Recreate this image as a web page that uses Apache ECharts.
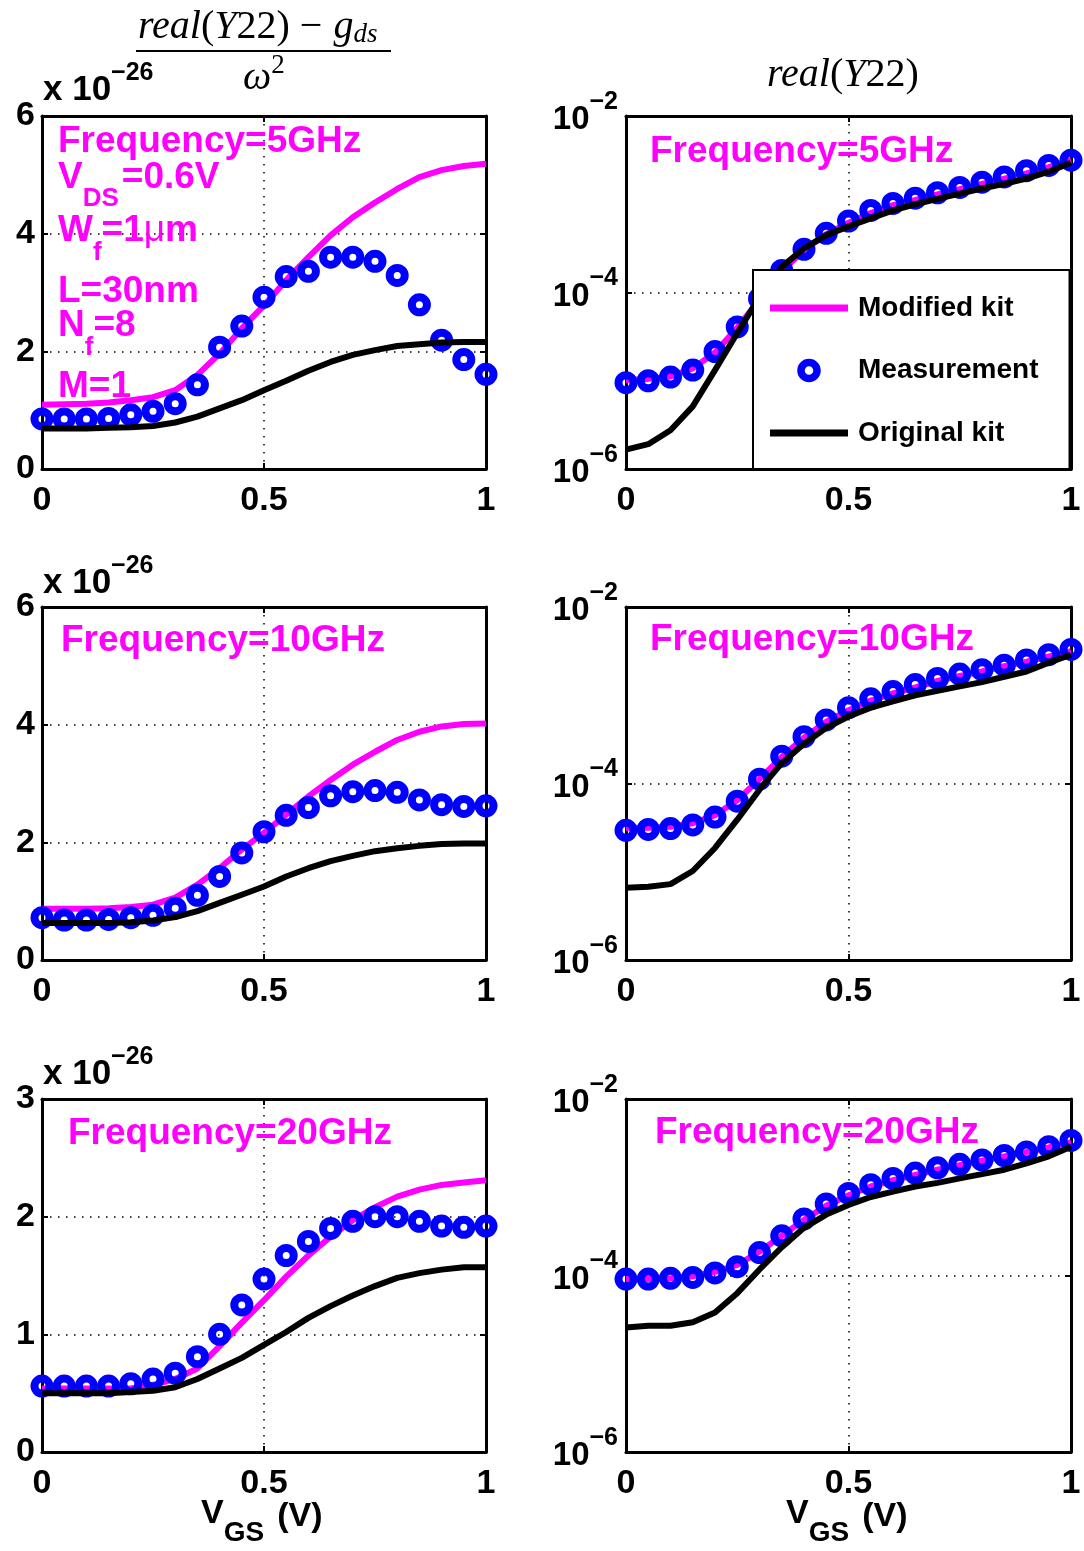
<!DOCTYPE html>
<html>
<head>
<meta charset="utf-8">
<script src="https://cdn.jsdelivr.net/npm/echarts@6/dist/echarts.min.js"></script>
<style>
  html, body { margin: 0; padding: 0; background: #fff; }
  #chart { width: 1084px; height: 1551px; }
</style>
</head>
<body>
<div id="chart"></div>
<script>
// Gate voltage sweep (V)
const vgs = [0, 0.05, 0.1, 0.15, 0.2, 0.25, 0.3, 0.35, 0.4, 0.45, 0.5, 0.55, 0.6, 0.65, 0.7, 0.75, 0.8, 0.85, 0.9, 0.95, 1];

// (real(Y22) - gds) / w^2, in units of 1e-26
const c5Meas  = [0.85, 0.85, 0.85, 0.86, 0.92, 0.98, 1.11, 1.43, 2.07, 2.43, 2.92, 3.27, 3.36, 3.60, 3.60, 3.53, 3.29, 2.79, 2.19, 1.86, 1.61];
const c5Mod   = [1.09, 1.10, 1.11, 1.13, 1.17, 1.22, 1.34, 1.60, 1.96, 2.39, 2.78, 3.21, 3.60, 3.97, 4.28, 4.53, 4.76, 4.96, 5.08, 5.15, 5.19];
const c5Orig  = [0.69, 0.69, 0.69, 0.70, 0.71, 0.73, 0.79, 0.89, 1.03, 1.17, 1.34, 1.50, 1.67, 1.82, 1.94, 2.02, 2.09, 2.12, 2.15, 2.16, 2.16];

const c10Meas = [0.72, 0.68, 0.68, 0.69, 0.72, 0.76, 0.88, 1.10, 1.42, 1.82, 2.18, 2.46, 2.59, 2.79, 2.86, 2.88, 2.85, 2.72, 2.64, 2.61, 2.62];
const c10Mod  = [0.87, 0.87, 0.87, 0.88, 0.90, 0.94, 1.06, 1.28, 1.56, 1.88, 2.16, 2.47, 2.78, 3.06, 3.32, 3.54, 3.74, 3.88, 3.97, 4.01, 4.02];
const c10Orig = [0.63, 0.63, 0.63, 0.63, 0.64, 0.67, 0.73, 0.83, 0.97, 1.11, 1.25, 1.42, 1.56, 1.68, 1.77, 1.85, 1.90, 1.94, 1.97, 1.98, 1.98];

const c20Meas = [0.56, 0.56, 0.56, 0.56, 0.58, 0.62, 0.67, 0.81, 1.00, 1.25, 1.47, 1.67, 1.79, 1.90, 1.96, 2.00, 2.00, 1.96, 1.92, 1.91, 1.92];
const c20Mod  = [0.54, 0.54, 0.54, 0.54, 0.54, 0.57, 0.62, 0.71, 0.90, 1.10, 1.29, 1.49, 1.67, 1.83, 1.97, 2.08, 2.17, 2.23, 2.27, 2.29, 2.31];
const c20Orig = [0.50, 0.50, 0.50, 0.50, 0.51, 0.52, 0.55, 0.62, 0.71, 0.80, 0.91, 1.02, 1.14, 1.24, 1.33, 1.41, 1.48, 1.52, 1.55, 1.57, 1.57];

// real(Y22) (S)
const g5Meas  = [9.5e-6, 1.0e-5, 1.1e-5, 1.32e-5, 2.14e-5, 4.07e-5, 8.5e-5, 1.78e-4, 3.09e-4, 4.68e-4, 6.46e-4, 8.51e-4, 1.02e-3, 1.17e-3, 1.35e-3, 1.55e-3, 1.78e-3, 2.04e-3, 2.40e-3, 2.75e-3, 3.16e-3];
const g5Mod   = [1.02e-5, 1.05e-5, 1.12e-5, 1.38e-5, 2.09e-5, 3.98e-5, 8.3e-5, 1.74e-4, 3.02e-4, 4.57e-4, 6.17e-4, 7.94e-4, 9.77e-4, 1.12e-3, 1.29e-3, 1.48e-3, 1.70e-3, 1.95e-3, 2.24e-3, 2.63e-3, 3.16e-3];
const g5Orig  = [1.66e-6, 1.91e-6, 2.75e-6, 5.13e-6, 1.32e-5, 3.47e-5, 8.9e-5, 1.95e-4, 3.16e-4, 4.47e-4, 5.62e-4, 6.92e-4, 8.51e-4, 1.0e-3, 1.15e-3, 1.32e-3, 1.51e-3, 1.70e-3, 1.95e-3, 2.34e-3, 2.95e-3];

const g10Meas = [2.95e-5, 3.02e-5, 3.09e-5, 3.39e-5, 4.17e-5, 6.31e-5, 1.12e-4, 2.04e-4, 3.39e-4, 5.25e-4, 7.24e-4, 9.12e-4, 1.10e-3, 1.32e-3, 1.55e-3, 1.74e-3, 1.95e-3, 2.19e-3, 2.51e-3, 2.88e-3, 3.31e-3];
const g10Mod  = [3.16e-5, 3.16e-5, 3.24e-5, 3.55e-5, 4.37e-5, 6.46e-5, 1.12e-4, 2.0e-4, 3.31e-4, 5.01e-4, 6.76e-4, 8.71e-4, 1.05e-3, 1.23e-3, 1.45e-3, 1.66e-3, 1.86e-3, 2.14e-3, 2.40e-3, 2.75e-3, 3.16e-3];
const g10Orig = [6.6e-6, 6.76e-6, 7.24e-6, 1.02e-5, 1.86e-5, 3.89e-5, 8.51e-5, 1.70e-4, 2.82e-4, 4.27e-4, 5.75e-4, 7.24e-4, 8.51e-4, 1.0e-3, 1.12e-3, 1.26e-3, 1.41e-3, 1.62e-3, 1.86e-3, 2.34e-3, 2.88e-3];

const g20Meas = [9.1e-5, 9.1e-5, 9.3e-5, 9.5e-5, 1.07e-4, 1.26e-4, 1.82e-4, 2.82e-4, 4.37e-4, 6.46e-4, 8.51e-4, 1.07e-3, 1.26e-3, 1.45e-3, 1.66e-3, 1.82e-3, 2.04e-3, 2.29e-3, 2.51e-3, 2.88e-3, 3.39e-3];
const g20Mod  = [9.1e-5, 9.1e-5, 9.3e-5, 9.8e-5, 1.10e-4, 1.32e-4, 1.86e-4, 2.82e-4, 4.27e-4, 6.17e-4, 8.13e-4, 1.02e-3, 1.20e-3, 1.38e-3, 1.58e-3, 1.78e-3, 2.0e-3, 2.24e-3, 2.51e-3, 2.82e-3, 3.24e-3];
const g20Orig = [2.57e-5, 2.69e-5, 2.69e-5, 2.95e-5, 3.8e-5, 6.31e-5, 1.17e-4, 2.09e-4, 3.47e-4, 4.9e-4, 6.31e-4, 7.76e-4, 8.91e-4, 1.02e-3, 1.12e-3, 1.26e-3, 1.41e-3, 1.58e-3, 1.86e-3, 2.24e-3, 2.88e-3];

const seriesNames = ['Modified kit', 'Measurement', 'Original kit'];
const freqLabels = ['Frequency=5GHz', 'Frequency=10GHz', 'Frequency=20GHz'];

const panels = [
  { row: 0, col: 0, mod: c5Mod,  meas: c5Meas,  orig: c5Orig,  ymax: 6, yint: 2 },
  { row: 0, col: 1, mod: g5Mod,  meas: g5Meas,  orig: g5Orig,  log: true },
  { row: 1, col: 0, mod: c10Mod, meas: c10Meas, orig: c10Orig, ymax: 6, yint: 2 },
  { row: 1, col: 1, mod: g10Mod, meas: g10Meas, orig: g10Orig, log: true },
  { row: 2, col: 0, mod: c20Mod, meas: c20Meas, orig: c20Orig, ymax: 3, yint: 1 },
  { row: 2, col: 1, mod: g20Mod, meas: g20Meas, orig: g20Orig, log: true }
];

const SANS = '"Liberation Sans", Arial, Helvetica, sans-serif';
const SERIF = '"Liberation Serif", "Times New Roman", serif';
const MAGENTA = '#ff00ff';
const BLUE = '#0000ff';

const colLeft = [42, 626];
const colWidth = [444, 445];
const rowTop = [116, 607, 1099];
const plotHeight = 353;

const tickText = { fontFamily: SANS, fontWeight: 'bold', fontSize: 34, color: '#000' };
const boxLine = { show: true, onZero: false, lineStyle: { color: '#000', width: 3 } };
const tickStyle = { show: true, inside: true, length: 6, lineStyle: { color: '#000', width: 2 } };
const dotted = { show: true, lineStyle: { color: '#000', width: 1.5, type: [1.5, 6.5] } };

const grids = [], xAxes = [], yAxes = [], series = [];

panels.forEach((p, gi) => {
  grids.push({ left: colLeft[p.col], top: rowTop[p.row], width: colWidth[p.col], height: plotHeight, containLabel: false });

  // bottom and top x axes
  xAxes.push({
    type: 'value', gridIndex: gi, min: 0, max: 1, interval: 0.5, position: 'bottom',
    axisLine: boxLine, axisTick: tickStyle,
    axisLabel: Object.assign({ margin: 15 }, tickText),
    splitLine: dotted
  });
  xAxes.push({
    type: 'value', gridIndex: gi, min: 0, max: 1, interval: 0.5, position: 'top',
    axisLine: boxLine, axisTick: tickStyle, axisLabel: { show: false }, splitLine: { show: false }
  });

  if (p.log) {
    yAxes.push({
      type: 'log', logBase: 10, gridIndex: gi, min: 1e-6, max: 1e-2, interval: 2, splitNumber: 2, position: 'left',
      axisLine: boxLine, axisTick: tickStyle, splitLine: dotted, minorTick: { show: false },
      axisLabel: {
        margin: 8,
        padding: [28, 0, 0, 0],
        formatter: v => '{b|10}{s|\u2212' + Math.round(-Math.log10(v)) + '}',
        rich: {
          b: { fontFamily: SANS, fontWeight: 'bold', fontSize: 33, lineHeight: 33, color: '#000', verticalAlign: 'bottom', padding: [0, 0, 10, 0] },
          s: { fontFamily: SANS, fontWeight: 'bold', fontSize: 25, lineHeight: 25, color: '#000', verticalAlign: 'bottom', padding: [0, 0, 32, 0] }
        }
      }
    });
    yAxes.push({
      type: 'log', logBase: 10, gridIndex: gi, min: 1e-6, max: 1e-2, interval: 2, splitNumber: 2, position: 'right',
      axisLine: boxLine, axisTick: tickStyle, axisLabel: { show: false }, splitLine: { show: false }
    });
  } else {
    yAxes.push({
      type: 'value', gridIndex: gi, min: 0, max: p.ymax, interval: p.yint, position: 'left',
      axisLine: boxLine, axisTick: tickStyle, splitLine: dotted,
      axisLabel: Object.assign({ margin: 7, padding: [7, 0, 0, 0] }, tickText)
    });
    yAxes.push({
      type: 'value', gridIndex: gi, min: 0, max: p.ymax, interval: p.yint, position: 'right',
      axisLine: boxLine, axisTick: tickStyle, axisLabel: { show: false }, splitLine: { show: false }
    });
  }

  const xi = gi * 2, yi = gi * 2;
  const pts = arr => vgs.map((v, i) => [v, arr[i]]);

  series.push({
    name: seriesNames[0], type: 'line', xAxisIndex: xi, yAxisIndex: yi, data: pts(p.mod),
    symbol: 'none', z: 2, lineStyle: { color: MAGENTA, width: 6 }, itemStyle: { color: MAGENTA }
  });
  series.push({
    name: seriesNames[1], type: 'scatter', xAxisIndex: xi, yAxisIndex: yi, data: pts(p.meas),
    symbol: 'circle', symbolSize: 15, z: 3, clip: false,
    itemStyle: { color: 'rgba(255,255,255,0)', borderColor: BLUE, borderWidth: 8, opacity: 1 }
  });
  series.push({
    name: seriesNames[2], type: 'line', xAxisIndex: xi, yAxisIndex: yi, data: pts(p.orig),
    symbol: 'none', z: 4, lineStyle: { color: '#000', width: 6 }, itemStyle: { color: '#000' }
  });
});

// Text runs: pieces placed one after another, measured with the same fonts
const mctx = document.createElement('canvas').getContext('2d');
function textRun(x, y, parts, color, family, baseWeight) {
  let cx = x;
  const out = [];
  parts.forEach(p => {
    const weight = p.weight || baseWeight;
    const font = (p.italic ? 'italic ' : '') + weight + ' ' + p.size + 'px ' + (p.family || family);
    out.push({
      type: 'text', x: cx, y: y + (p.dy || 0), z: 100, silent: true,
      style: { text: p.t, font: font, fill: color, align: 'left', verticalAlign: 'middle', textAlign: 'left', textVerticalAlign: 'middle' }
    });
    mctx.font = font;
    cx += mctx.measureText(p.t).width + (p.gap || 0);
  });
  return out;
}

const graphics = [];
const push = arr => arr.forEach(e => graphics.push(e));

// column headings
push(textRun(138, 27, [
  { t: 'real', size: 40, italic: true }, { t: '(', size: 40 }, { t: 'Y', size: 40, italic: true },
  { t: '22', size: 40 }, { t: ')', size: 40, gap: 10 }, { t: '\u2212', size: 40, gap: 11 },
  { t: 'g', size: 40, italic: true }, { t: 'ds', size: 27, italic: true, dy: 8 }
], '#000', SERIF, 'normal'));
graphics.push({ type: 'line', z: 100, silent: true, shape: { x1: 136, y1: 51, x2: 391, y2: 51 }, style: { stroke: '#000', lineWidth: 2 } });
push(textRun(243, 78, [
  { t: '\u03c9', size: 40, italic: true }, { t: '2', size: 27, dy: -12 }
], '#000', SERIF, 'normal'));
push(textRun(767, 75, [
  { t: 'real', size: 40, italic: true }, { t: '(', size: 40 }, { t: 'Y', size: 40, italic: true },
  { t: '22', size: 40 }, { t: ')', size: 40 }
], '#000', SERIF, 'normal'));

// axis multipliers for the linear panels
[90, 583, 1074].forEach(y => {
  push(textRun(43, y, [{ t: 'x 10', size: 35 }, { t: '\u221226', size: 25, dy: -17 }], '#000', SANS, 'bold'));
});

// x axis titles
[201, 786].forEach(x => {
  push(textRun(x, 1514, [
    { t: 'V', size: 34 }, { t: 'GS', size: 28, dy: 19, gap: 13 }, { t: '(V)', size: 34, dy: 3 }
  ], '#000', SANS, 'bold'));
});

// frequency captions
const capPos = [[58, 142], [650, 152], [61, 641], [650, 640], [68, 1134], [655, 1133]];
panels.forEach((p, gi) => {
  push(textRun(capPos[gi][0], capPos[gi][1], [{ t: freqLabels[p.row], size: 37 }], MAGENTA, SANS, 'bold'));
});

// device parameters
push(textRun(58, 178, [{ t: 'V', size: 37 }, { t: 'DS', size: 26, dy: 21, gap: 3 }, { t: '=0.6V', size: 37 }], MAGENTA, SANS, 'bold'));
push(textRun(58, 231, [{ t: 'W', size: 37 }, { t: 'f', size: 26, dy: 22 }, { t: '=1', size: 37 }, { t: '\u03bc', size: 37, weight: 'normal' }, { t: 'm', size: 37 }], MAGENTA, SANS, 'bold'));
push(textRun(58, 292, [{ t: 'L=30nm', size: 37 }], MAGENTA, SANS, 'bold'));
push(textRun(58, 326, [{ t: 'N', size: 37 }, { t: 'f', size: 26, dy: 22 }, { t: '=8', size: 37 }], MAGENTA, SANS, 'bold'));
push(textRun(58, 387, [{ t: 'M=1', size: 37 }], MAGENTA, SANS, 'bold'));

const barIcon = 'path://M0,0H78V7H0Z';

const option = {
  backgroundColor: '#fff',
  animation: false,
  grid: grids,
  xAxis: xAxes,
  yAxis: yAxes,
  series: series,
  legend: {
    data: [
      { name: seriesNames[0], icon: barIcon, itemStyle: { color: MAGENTA, borderWidth: 0 } },
      { name: seriesNames[1], icon: 'circle', itemStyle: { color: 'rgba(255,255,255,0)', borderColor: BLUE, borderWidth: 7.5, opacity: 1 } },
      { name: seriesNames[2], icon: barIcon, itemStyle: { color: '#000', borderWidth: 0 } }
    ],
    orient: 'vertical',
    left: 753, top: 270,
    itemWidth: 78, itemHeight: 16, itemGap: 34.5,
    padding: [24, 31, 22, 17],
    backgroundColor: '#fff',
    borderColor: '#000', borderWidth: 2,
    selectedMode: false,
    z: 50,
    textStyle: { fontFamily: SANS, fontWeight: 'bold', fontSize: 28, color: '#000', padding: [0, 0, 0, 5] }
  },
  graphic: graphics
};

const chart = echarts.init(document.getElementById('chart'), null, { renderer: 'canvas' });
chart.setOption(option);
</script>
</body>
</html>
